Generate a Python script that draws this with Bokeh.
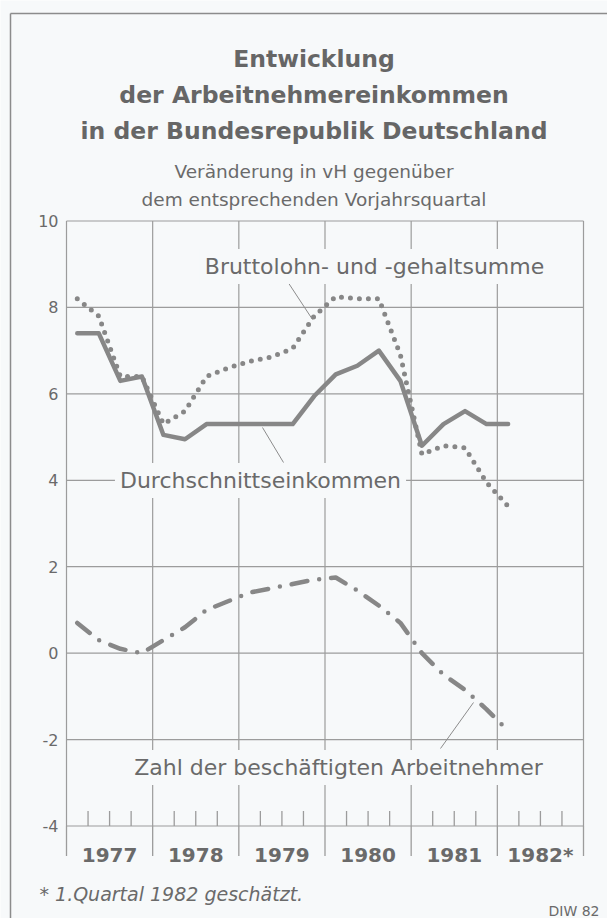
from bokeh.plotting import figure
from bokeh.models import Range1d, Label
from bokeh.embed import file_html
from bokeh.resources import INLINE
from bokeh.core.properties import value

# ---------------- data ----------------
years = [1977, 1978, 1979, 1980, 1981, 1982]
year_labels = ["1977", "1978", "1979", "1980", "1981", "1982*"]
quarters_per_year = 4
n_quarters = 21  # 1977Q1 .. 1982Q1

bruttolohn = [8.2, 7.8, 6.4, 6.4,
              5.3, 5.6, 6.4, 6.6,
              6.75, 6.85, 7.05, 7.8,
              8.25, 8.2, 8.2, 6.9,
              4.6, 4.8, 4.75, 3.95,
              3.4]
durchschnitt = [7.4, 7.4, 6.3, 6.4,
                5.05, 4.95, 5.3, 5.3,
                5.3, 5.3, 5.3, 5.95,
                6.45, 6.65, 7.0, 6.3,
                4.8, 5.3, 5.6, 5.3,
                5.3]
arbeitnehmer = [0.7, 0.3, 0.1, 0.0,
                0.3, 0.6, 1.0, 1.2,
                1.4, 1.5, 1.6, 1.7,
                1.75, 1.45, 1.1, 0.7,
                0.0, -0.5, -0.85, -1.3,
                -1.8]

y_ticks = [-4, -2, 0, 2, 4, 6, 8, 10]
y_tick_labels = ["-4", "-2", "0", "2", "4", "6", "8", "10"]

title_lines = ["Entwicklung",
               "der Arbeitnehmereinkommen",
               "in der Bundesrepublik Deutschland"]
subtitle_lines = ["Veränderung in vH gegenüber",
                  "dem entsprechenden Vorjahrsquartal"]
label_brutto = "Bruttolohn- und -gehaltsumme"
label_durch = "Durchschnittseinkommen"
label_zahl = "Zahl der beschäftigten Arbeitnehmer"
footnote = "* 1.Quartal 1982 geschätzt."
source = "DIW 82"

# quarter centres on the time axis
qx = [years[0] + (i + 0.5) / quarters_per_year for i in range(n_quarters)]
year_bounds = years + [years[-1] + 1]
year_mid = [y + 0.5 for y in years]
quarter_marks = [y + k / quarters_per_year for y in years for k in (1, 2, 3)]

# ---------------- layout / styling ----------------
BG = "#f7f9fa"
LINE = "#878787"
TEXT = "#6a6a6a"
GRID = "#9c9c9c"
FONT = "DejaVu Sans"

W, H = 607, 918
# plot area in page pixels
PL, PR, PT, PB = 66.0, 583.0, 220.5, 825.5
x0, x1 = years[0], years[-1] + 1
y0, y1 = y_ticks[0], y_ticks[-1]
sx = (PR - PL) / (x1 - x0)
sy = (PB - PT) / (y1 - y0)


def px2x(px):
    return x0 + (px - PL) / sx


def py2y(py):
    return y1 - (py - PT) / sy


p = figure(width=W, height=H,
           x_range=Range1d(px2x(0), px2x(W)), y_range=Range1d(py2y(H), py2y(0)),
           output_backend="svg", toolbar_location=None,
           x_axis_location=None, y_axis_location=None,
           min_border=0, background_fill_color=BG, border_fill_color=BG)
p.outline_line_color = None
p.xgrid.visible = False
p.ygrid.visible = False

# outer frame: top and left edges (right/bottom run off the page)
p.segment(x0=[px2x(10), px2x(10)], y0=[py2y(13), py2y(13)],
          x1=[px2x(W + 5), px2x(10)], y1=[py2y(13), py2y(H + 5)],
          line_color="#8c8c8c", line_width=1.5)

# grid and plot-area border
p.segment(x0=year_bounds, y0=[y0] * len(year_bounds),
          x1=year_bounds, y1=[y1] * len(year_bounds),
          line_color=GRID, line_width=1.2)
p.segment(x0=[x0] * len(y_ticks), y0=y_ticks,
          x1=[x1] * len(y_ticks), y1=y_ticks,
          line_color=GRID, line_width=1.2)

# quarter tick marks above the bottom line
tick_len = 15 / sy
p.segment(x0=quarter_marks, y0=[y0] * len(quarter_marks),
          x1=quarter_marks, y1=[y0 + tick_len] * len(quarter_marks),
          line_color=GRID, line_width=1.3)

# year separators below the bottom line
sep_len = 30 / sy
p.segment(x0=year_bounds, y0=[y0] * len(year_bounds),
          x1=year_bounds, y1=[y0 - sep_len] * len(year_bounds),
          line_color=GRID, line_width=1.3)

# tick labels
p.text(x=[x0] * len(y_ticks), y=y_ticks, text=y_tick_labels,
       x_offset=-8, text_align="right", text_baseline="middle",
       text_font=value(FONT), text_font_size="16px", text_color=TEXT)
p.text(x=year_mid, y=[y0] * len(year_mid), text=year_labels,
       y_offset=29, text_align="center", text_baseline="alphabetic",
       text_font=value(FONT), text_font_style="bold",
       text_font_size="20px", text_color=TEXT)

# data lines
p.line(qx, durchschnitt, line_color=LINE, line_width=4.5,
       line_join="round", line_cap="round")
p.line(qx, bruttolohn, line_color=LINE, line_width=5,
       line_dash="0 9", line_cap="round", line_join="round")
p.line(qx, arbeitnehmer, line_color=LINE, line_width=4.5,
       line_dash="16 12 0 12", line_cap="round", line_join="round")

# leader lines (thin)
p.segment(x0=[px2x(287), px2x(262), px2x(440)],
          y0=[py2y(281), py2y(427), py2y(748)],
          x1=[px2x(312), px2x(283), px2x(473)],
          y1=[py2y(319), py2y(462), py2y(702)],
          line_color="#8c8c8c", line_width=1)

# series labels with a background that interrupts the grid
for txt, cx, cy in [(label_brutto, 374, 266),
                    (label_durch, 260, 480),
                    (label_zahl, 338, 767)]:
    p.add_layout(Label(x=px2x(cx), y=py2y(cy), text=txt,
                       text_align="center", text_baseline="middle",
                       text_font=FONT, text_font_size="22px",
                       text_color=TEXT, background_fill_color=BG,
                       padding=5))

# title and subtitle
for txt, by in zip(title_lines, [58.5, 94.5, 130]):
    p.add_layout(Label(x=px2x(313.5), y=py2y(by), text=txt,
                       text_align="center", text_baseline="alphabetic",
                       text_font=FONT, text_font_style="bold",
                       text_font_size="23.5px", text_color="#666666"))
for txt, by in zip(subtitle_lines, [170.5, 199]):
    p.add_layout(Label(x=px2x(313.5), y=py2y(by), text=txt,
                       text_align="center", text_baseline="alphabetic",
                       text_font=FONT, text_font_size="18.5px",
                       text_color=TEXT))

# footnote and source
p.add_layout(Label(x=px2x(39), y=py2y(893), text=footnote,
                   text_align="left", text_baseline="alphabetic",
                   text_font=FONT, text_font_style="italic",
                   text_font_size="19px", text_color=TEXT))
p.add_layout(Label(x=px2x(599), y=py2y(910), text=source,
                   text_align="right", text_baseline="alphabetic",
                   text_font=FONT, text_font_size="14px",
                   text_color=TEXT))

open("out.html", "w").write(file_html(p, INLINE))
